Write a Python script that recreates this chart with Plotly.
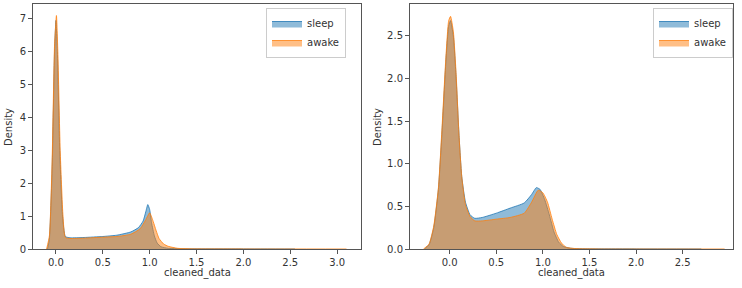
import plotly.graph_objects as go

# ---- data ----
left_sleep_x = [-0.09, -0.07, -0.04, -0.015, 0.0, 0.015, 0.04, 0.07, 0.1, 0.15, 0.3, 0.5, 0.65, 0.8, 0.88, 0.93, 0.96, 0.98, 1.0, 1.02, 1.05, 1.08, 1.12, 1.2, 1.4, 2.0, 2.55]
left_sleep_y = [0, 0.3, 2.5, 6.0, 6.95, 6.0, 3.0, 1.0, 0.38, 0.34, 0.35, 0.38, 0.42, 0.52, 0.65, 0.85, 1.15, 1.35, 1.2, 0.8, 0.4, 0.18, 0.07, 0.02, 0.005, 0.002, 0]
left_awake_x = [-0.1, -0.07, -0.04, -0.015, 0.005, 0.02, 0.045, 0.075, 0.1, 0.15, 0.3, 0.5, 0.65, 0.8, 0.9, 0.96, 1.0, 1.03, 1.07, 1.1, 1.15, 1.2, 1.3, 1.5, 2.0, 3.1]
left_awake_y = [0, 0.4, 2.8, 6.2, 7.1, 6.0, 3.0, 1.0, 0.35, 0.32, 0.33, 0.36, 0.38, 0.45, 0.62, 0.9, 1.1, 0.9, 0.55, 0.32, 0.15, 0.08, 0.02, 0.005, 0.002, 0]

right_sleep_x = [-0.27, -0.22, -0.17, -0.12, -0.08, -0.04, -0.01, 0.01, 0.04, 0.07, 0.1, 0.13, 0.17, 0.22, 0.27, 0.35, 0.5, 0.65, 0.8, 0.88, 0.93, 0.97, 1.02, 1.07, 1.12, 1.17, 1.22, 1.3, 1.5, 2.0, 2.7]
right_sleep_y = [0, 0.05, 0.25, 0.7, 1.4, 2.2, 2.62, 2.68, 2.5, 2.0, 1.35, 0.85, 0.55, 0.4, 0.36, 0.37, 0.42, 0.48, 0.54, 0.64, 0.72, 0.70, 0.58, 0.4, 0.2, 0.08, 0.03, 0.008, 0.002, 0.001, 0]
right_awake_x = [-0.28, -0.22, -0.17, -0.12, -0.08, -0.04, -0.01, 0.01, 0.04, 0.07, 0.1, 0.13, 0.17, 0.22, 0.27, 0.35, 0.5, 0.65, 0.8, 0.88, 0.95, 1.0, 1.05, 1.1, 1.15, 1.2, 1.25, 1.35, 1.6, 2.95]
right_awake_y = [0, 0.06, 0.27, 0.72, 1.45, 2.25, 2.68, 2.73, 2.55, 2.05, 1.35, 0.85, 0.52, 0.38, 0.33, 0.33, 0.35, 0.37, 0.42, 0.55, 0.69, 0.66, 0.55, 0.35, 0.17, 0.07, 0.02, 0.005, 0.001, 0]

series_names = ["sleep", "awake"]
left_xticks = [0.0, 0.5, 1.0, 1.5, 2.0, 2.5, 3.0]
left_yticks = [0, 1, 2, 3, 4, 5, 6, 7]
right_xticks = [0.0, 0.5, 1.0, 1.5, 2.0, 2.5]
right_yticks = [0.0, 0.5, 1.0, 1.5, 2.0, 2.5]

W, H = 742, 288
BLUE = "31,119,180"
ORANGE = "255,127,14"
FONT = "DejaVu Sans, sans-serif"
TXT = "#333333"

fig = go.Figure()

def add(x, y, name, rgb, xa, ya, legend, show):
    fig.add_trace(go.Scatter(
        x=x, y=y, name=name, mode="lines", fill="tozeroy",
        line=dict(color=f"rgba({rgb},0.8)", width=1, shape="spline", smoothing=0.5),
        fillcolor=f"rgba({rgb},0.5)", xaxis=xa, yaxis=ya,
        legend=legend, showlegend=show, hoverinfo="skip"))

add(left_sleep_x, left_sleep_y, series_names[0], BLUE, "x", "y", "legend", True)
add(left_awake_x, left_awake_y, series_names[1], ORANGE, "x", "y", "legend", True)
add(right_sleep_x, right_sleep_y, series_names[0], BLUE, "x2", "y2", "legend2", True)
add(right_awake_x, right_awake_y, series_names[1], ORANGE, "x2", "y2", "legend2", True)

ydom = [1 - 249 / H, 1 - 4 / H]
axcommon = dict(showline=True, mirror=True, linecolor="#555555", linewidth=1,
                ticks="outside", ticklen=4, tickcolor="#555555", showgrid=False,
                zeroline=False, tickfont=dict(family=FONT, size=10, color=TXT),
                automargin=False)

ann_font = dict(family=FONT, size=10, color=TXT)
fig.update_layout(
    width=W, height=H, margin=dict(l=0, r=0, t=0, b=0),
    paper_bgcolor="white", plot_bgcolor="white",
    font=dict(family=FONT, size=10, color=TXT),
    xaxis=dict(domain=[33 / W, 361 / W], range=[-0.245, 3.255], tickvals=left_xticks,
               ticktext=[f"{v:.1f}" for v in left_xticks], anchor="y", **axcommon),
    yaxis=dict(domain=ydom, range=[0, 7.45], tickvals=left_yticks,
               ticktext=[str(v) for v in left_yticks], anchor="x", **axcommon),
    xaxis2=dict(domain=[410 / W, 733 / W], range=[-0.425, 3.04], tickvals=right_xticks,
                ticktext=[f"{v:.1f}" for v in right_xticks], anchor="y2", **axcommon),
    yaxis2=dict(domain=ydom, range=[0, 2.875], tickvals=right_yticks,
                ticktext=[f"{v:.1f}" for v in right_yticks], anchor="x2", **axcommon),
    legend=dict(x=346 / W, y=1 - 8 / H, xanchor="right", yanchor="top",
                bgcolor="rgba(255,255,255,0.8)", bordercolor="#cccccc", borderwidth=1,
                font=dict(family=FONT, size=10, color=TXT), itemwidth=30,
                tracegroupgap=0),
    legend2=dict(x=733 / W, y=1 - 8 / H, xanchor="right", yanchor="top",
                 bgcolor="rgba(255,255,255,0.8)", bordercolor="#cccccc", borderwidth=1,
                 font=dict(family=FONT, size=10, color=TXT), itemwidth=30,
                 tracegroupgap=0),
    annotations=[
        dict(text="Density", x=8 / W, y=1 - 127 / H, xref="paper", yref="paper",
             xanchor="center", yanchor="middle",
             showarrow=False, textangle=-90, font=ann_font),
        dict(text="Density", x=377 / W, y=1 - 127 / H, xref="paper", yref="paper",
             xanchor="center", yanchor="middle",
             showarrow=False, textangle=-90, font=ann_font),
        dict(text="cleaned_data", x=197 / W, y=1 - 273 / H, xref="paper", yref="paper",
             xanchor="center", yanchor="middle", showarrow=False, font=ann_font),
        dict(text="cleaned_data", x=571 / W, y=1 - 273 / H, xref="paper", yref="paper",
             xanchor="center", yanchor="middle", showarrow=False, font=ann_font),
    ],
)

fig.write_html("out.html")
